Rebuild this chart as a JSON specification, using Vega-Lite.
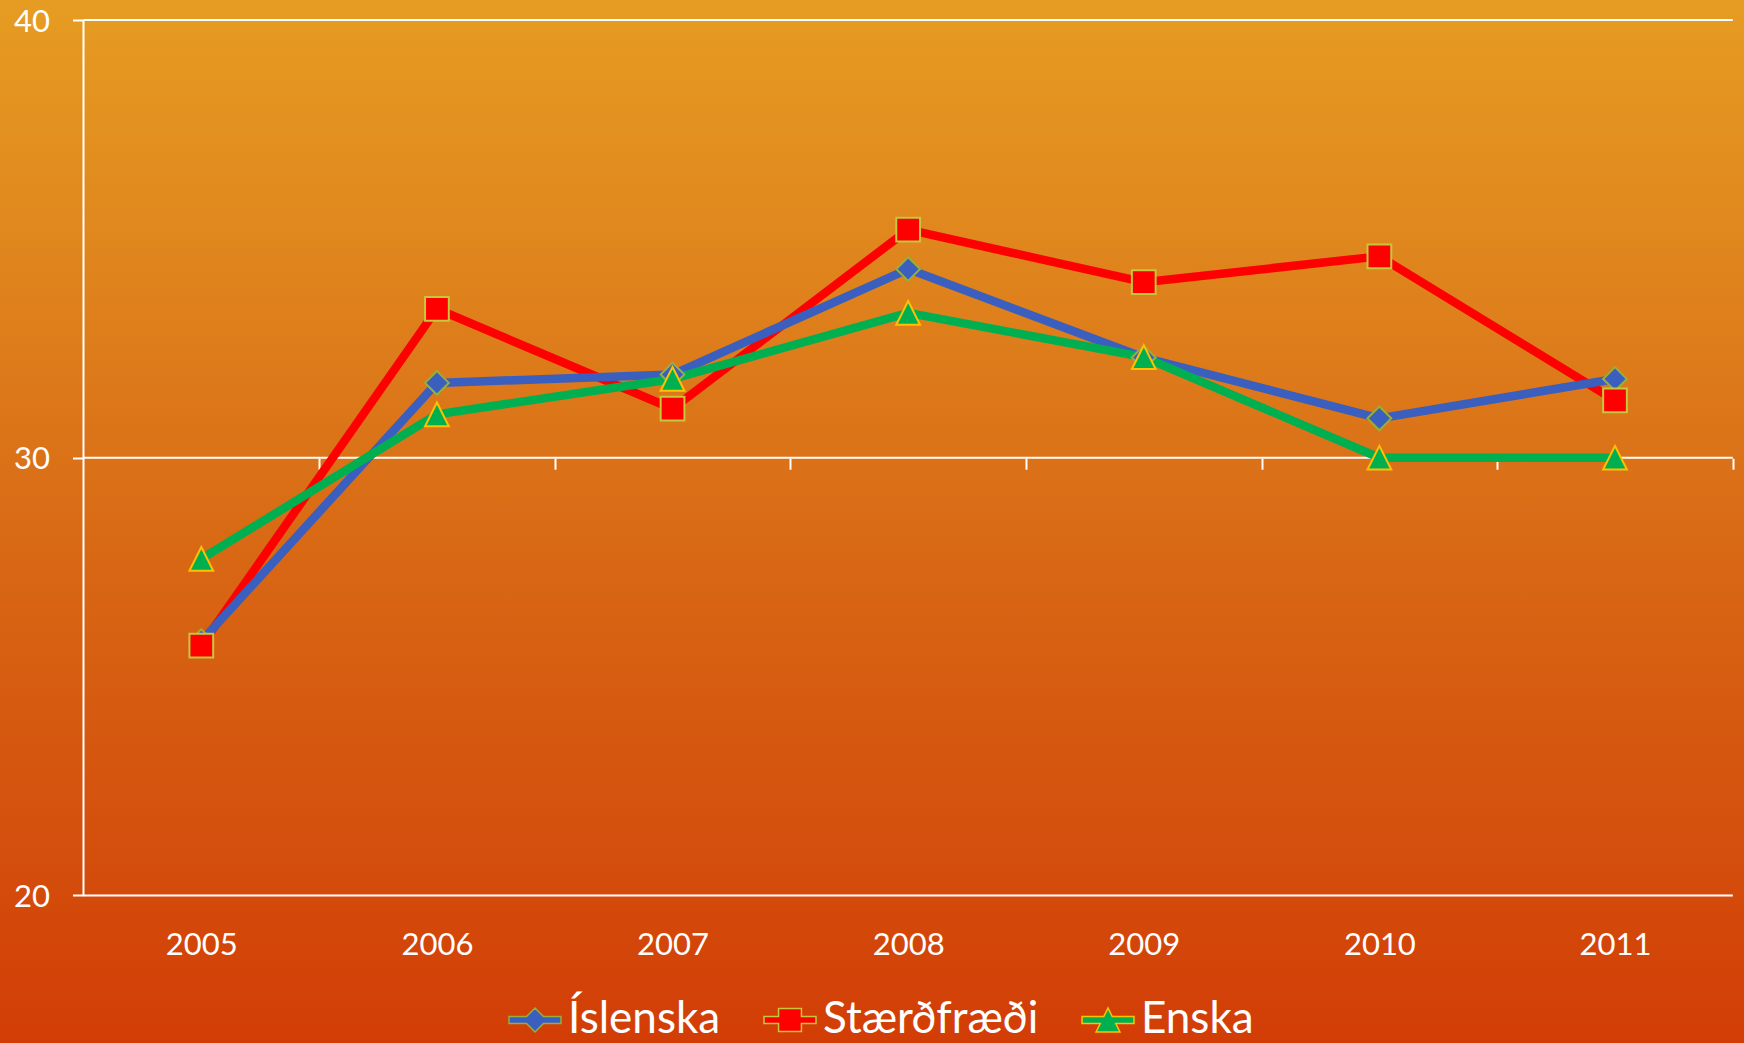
{
  "$schema": "https://vega.github.io/schema/vega-lite/v6.json",
  "width": 1744,
  "height": 1043,
  "autosize": {"type": "none"},
  "padding": 0,
  "background": "#D86A16",
  "config": {
    "font": "Lato",
    "view": {
      "stroke": null,
      "fill": {
        "gradient": "linear",
        "x1": 0, "y1": 0, "x2": 0, "y2": 1,
        "stops": [
          {"offset": 0, "color": "#E69C22"},
          {"offset": 0.3, "color": "#DE801C"},
          {"offset": 0.55, "color": "#D86614"},
          {"offset": 0.8, "color": "#D4500D"},
          {"offset": 1, "color": "#D23D06"}
        ]
      }
    }
  },
  "data": {
    "values": [
      {"year": 2005, "series": "Stærðfræði", "value": 25.71},
      {"year": 2006, "series": "Stærðfræði", "value": 33.40},
      {"year": 2007, "series": "Stærðfræði", "value": 31.12},
      {"year": 2008, "series": "Stærðfræði", "value": 35.21},
      {"year": 2009, "series": "Stærðfræði", "value": 34.01},
      {"year": 2010, "series": "Stærðfræði", "value": 34.60},
      {"year": 2011, "series": "Stærðfræði", "value": 31.31},
      {"year": 2005, "series": "Íslenska", "value": 25.81},
      {"year": 2006, "series": "Íslenska", "value": 31.71},
      {"year": 2007, "series": "Íslenska", "value": 31.90},
      {"year": 2008, "series": "Íslenska", "value": 34.31},
      {"year": 2009, "series": "Íslenska", "value": 32.29},
      {"year": 2010, "series": "Íslenska", "value": 30.90},
      {"year": 2011, "series": "Íslenska", "value": 31.80},
      {"year": 2005, "series": "Enska", "value": 27.69},
      {"year": 2006, "series": "Enska", "value": 30.99},
      {"year": 2007, "series": "Enska", "value": 31.80},
      {"year": 2008, "series": "Enska", "value": 33.31},
      {"year": 2009, "series": "Enska", "value": 32.30},
      {"year": 2010, "series": "Enska", "value": 30.0},
      {"year": 2011, "series": "Enska", "value": 30.0}
    ]
  },
  "resolve": {"axis": {"x": "independent", "y": "independent"}},
  "layer": [
    {
      "data": {"values": [{}]},
      "mark": {"type": "rule", "color": "white", "strokeWidth": 2},
      "encoding": {
        "x": {"datum": 2004.5, "type": "quantitative", "scale": {"domain": [2004.1456, 2011.5475], "nice": false, "zero": false}, "axis": null},
        "x2": {"datum": 2011.5},
        "y": {"datum": 40, "type": "quantitative", "scale": {"domain": [16.63, 40.457], "nice": false, "zero": false}, "axis": null}
      }
    },
    {
      "data": {"values": [{}]},
      "mark": {"type": "rule", "color": "white", "strokeWidth": 2},
      "encoding": {
        "x": {"datum": 2004.5, "type": "quantitative", "scale": {"domain": [2004.1456, 2011.5475], "nice": false, "zero": false},
          "axis": {"orient": "bottom", "offset": -584.8, "values": [2005.5, 2006.5, 2007.5, 2008.5, 2009.5, 2010.5, 2011.5], "domain": false, "labels": false, "grid": false, "ticks": true, "tickSize": 11, "tickWidth": 2, "tickColor": "white", "title": null}},
        "x2": {"datum": 2011.5},
        "y": {"datum": 30, "type": "quantitative", "scale": {"domain": [16.63, 40.457], "nice": false, "zero": false}, "axis": null}
      }
    },
    {
      "data": {"values": [{}]},
      "mark": {"type": "rule", "color": "white", "strokeWidth": 2},
      "encoding": {
        "x": {"datum": 2004.5, "type": "quantitative", "scale": {"domain": [2004.1456, 2011.5475], "nice": false, "zero": false}, "axis": null},
        "x2": {"datum": 2011.5},
        "y": {"datum": 20, "type": "quantitative", "scale": {"domain": [16.63, 40.457], "nice": false, "zero": false}, "axis": null}
      }
    },
    {
      "data": {"values": [{}]},
      "mark": {"type": "rule", "color": "white", "strokeWidth": 2},
      "encoding": {
        "x": {"datum": 2004.5, "type": "quantitative", "scale": {"domain": [2004.1456, 2011.5475], "nice": false, "zero": false}, "axis": null},
        "y": {"datum": 20, "type": "quantitative", "scale": {"domain": [16.63, 40.457], "nice": false, "zero": false}, "axis": null},
        "y2": {"datum": 40}
      }
    },
    {
      "mark": {"type": "line", "strokeWidth": 8.5, "strokeJoin": "round"},
      "encoding": {
        "x": {"field": "year", "type": "quantitative", "scale": {"domain": [2004.1456, 2011.5475], "nice": false, "zero": false},
          "axis": {"orient": "bottom", "offset": -112.5, "values": [2005, 2006, 2007, 2008, 2009, 2010, 2011], "format": "d", "domain": false, "ticks": false, "tickSize": 0, "grid": false, "labelFont": "Lato", "labelFontSize": 31, "labelColor": "white", "labelPadding": 0, "labelFlush": false, "labelOverlap": false, "title": null}},
        "y": {"field": "value", "type": "quantitative", "scale": {"domain": [16.63, 40.457], "nice": false, "zero": false},
          "axis": {"orient": "left", "offset": -83.5, "values": [20, 30, 40], "domain": false, "grid": false, "ticks": true, "tickSize": 11, "tickWidth": 2, "tickColor": "white", "labelFont": "Lato", "labelFontSize": 31, "labelColor": "white", "labelPadding": 23, "labelOffset": 2, "labelFlush": false, "labelOverlap": false, "title": null}},
        "color": {"field": "series", "type": "nominal", "sort": ["Íslenska", "Stærðfræði", "Enska"],
          "scale": {"range": ["#3A5FBE", "#FF0000", "#00B050"]},
          "legend": null
        }
      }
    },
    {
      "transform": [{"filter": "datum.series === 'Íslenska'"}],
      "mark": {"type": "point", "filled": true, "opacity": 1, "size": 2450, "strokeWidth": 2, "shape": "M0,-0.48L0.48,0L0,0.48L-0.48,0Z", "fill": "#3A5FBE", "stroke": "#98AE3A"},
      "encoding": {
        "x": {"field": "year", "type": "quantitative", "scale": {"domain": [2004.1456, 2011.5475], "nice": false, "zero": false}, "axis": null},
        "y": {"field": "value", "type": "quantitative", "scale": {"domain": [16.63, 40.457], "nice": false, "zero": false}, "axis": null}
      }
    },
    {
      "transform": [{"filter": "datum.series === 'Stærðfræði'"}],
      "mark": {"type": "point", "filled": true, "opacity": 1, "size": 2450, "strokeWidth": 2, "shape": "M-0.48,-0.48L0.48,-0.48L0.48,0.48L-0.48,0.48Z", "fill": "#FF0000", "stroke": "#C4C83A"},
      "encoding": {
        "x": {"field": "year", "type": "quantitative", "scale": {"domain": [2004.1456, 2011.5475], "nice": false, "zero": false}, "axis": null},
        "y": {"field": "value", "type": "quantitative", "scale": {"domain": [16.63, 40.457], "nice": false, "zero": false}, "axis": null}
      }
    },
    {
      "transform": [{"filter": "datum.series === 'Enska'"}],
      "mark": {"type": "point", "filled": true, "opacity": 1, "size": 2450, "strokeWidth": 2, "shape": "M0,-0.48L0.48,0.48L-0.48,0.48Z", "fill": "#00B050", "stroke": "#FFC000"},
      "encoding": {
        "x": {"field": "year", "type": "quantitative", "scale": {"domain": [2004.1456, 2011.5475], "nice": false, "zero": false}, "axis": null},
        "y": {"field": "value", "type": "quantitative", "scale": {"domain": [16.63, 40.457], "nice": false, "zero": false}, "axis": null}
      }
    },
    {
      "transform": [{"filter": "datum.year < 0"}],
      "mark": {"type": "point", "filled": true, "opacity": 1},
      "encoding": {
        "x": {"field": "year", "type": "quantitative", "scale": {"domain": [2004.1456, 2011.5475], "nice": false, "zero": false}, "axis": null},
        "y": {"field": "value", "type": "quantitative", "scale": {"domain": [16.63, 40.457], "nice": false, "zero": false}, "axis": null},
        "shape": {"field": "series", "type": "nominal",
          "scale": {"domain": ["Íslenska", "Stærðfræði", "Enska"], "range": [
            "M-1,-0.135L-0.325,-0.135L0,-0.46L0.325,-0.135L1,-0.135L1,0.135L0.325,0.135L0,0.46L-0.325,0.135L-1,0.135Z",
            "M-1,-0.135L-0.44,-0.135L-0.44,-0.44L0.44,-0.44L0.44,-0.135L1,-0.135L1,0.135L0.44,0.135L0.44,0.44L-0.44,0.44L-0.44,0.135L-1,0.135Z",
            "M-1,-0.135L-0.1625,-0.135L0,-0.46L0.1625,-0.135L1,-0.135L1,0.135L0.2975,0.135L0.46,0.46L-0.46,0.46L-0.2975,0.135L-1,0.135Z"
          ]},
          "legend": {"orient": "none", "legendX": 508, "legendY": 993, "direction": "horizontal", "columns": 3, "columnPadding": 40, "padding": 0, "title": null,
            "symbolSize": 2704, "symbolStrokeWidth": 1.5, "symbolOpacity": 1,
            "labelFont": "Lato", "labelFontSize": 44, "labelColor": "white", "labelLimit": 600, "labelOffset": 6}
        },
        "fill": {"field": "series", "type": "nominal",
          "scale": {"domain": ["Íslenska", "Stærðfræði", "Enska"], "range": ["#3A5FBE", "#FF0000", "#00B050"]},
          "legend": {"orient": "none", "legendX": 508, "legendY": 993, "direction": "horizontal", "columns": 3, "columnPadding": 40, "padding": 0, "title": null,
            "symbolSize": 2704, "symbolStrokeWidth": 1.5, "symbolOpacity": 1,
            "labelFont": "Lato", "labelFontSize": 44, "labelColor": "white", "labelLimit": 600, "labelOffset": 6}
        },
        "stroke": {"field": "series", "type": "nominal",
          "scale": {"domain": ["Íslenska", "Stærðfræði", "Enska"], "range": ["#98AE3A", "#C4C83A", "#FFC000"]},
          "legend": {"orient": "none", "legendX": 508, "legendY": 993, "direction": "horizontal", "columns": 3, "columnPadding": 40, "padding": 0, "title": null,
            "symbolSize": 2704, "symbolStrokeWidth": 1.5, "symbolOpacity": 1,
            "labelFont": "Lato", "labelFontSize": 44, "labelColor": "white", "labelLimit": 600, "labelOffset": 6}
        }
      }
    }
  ]
}
